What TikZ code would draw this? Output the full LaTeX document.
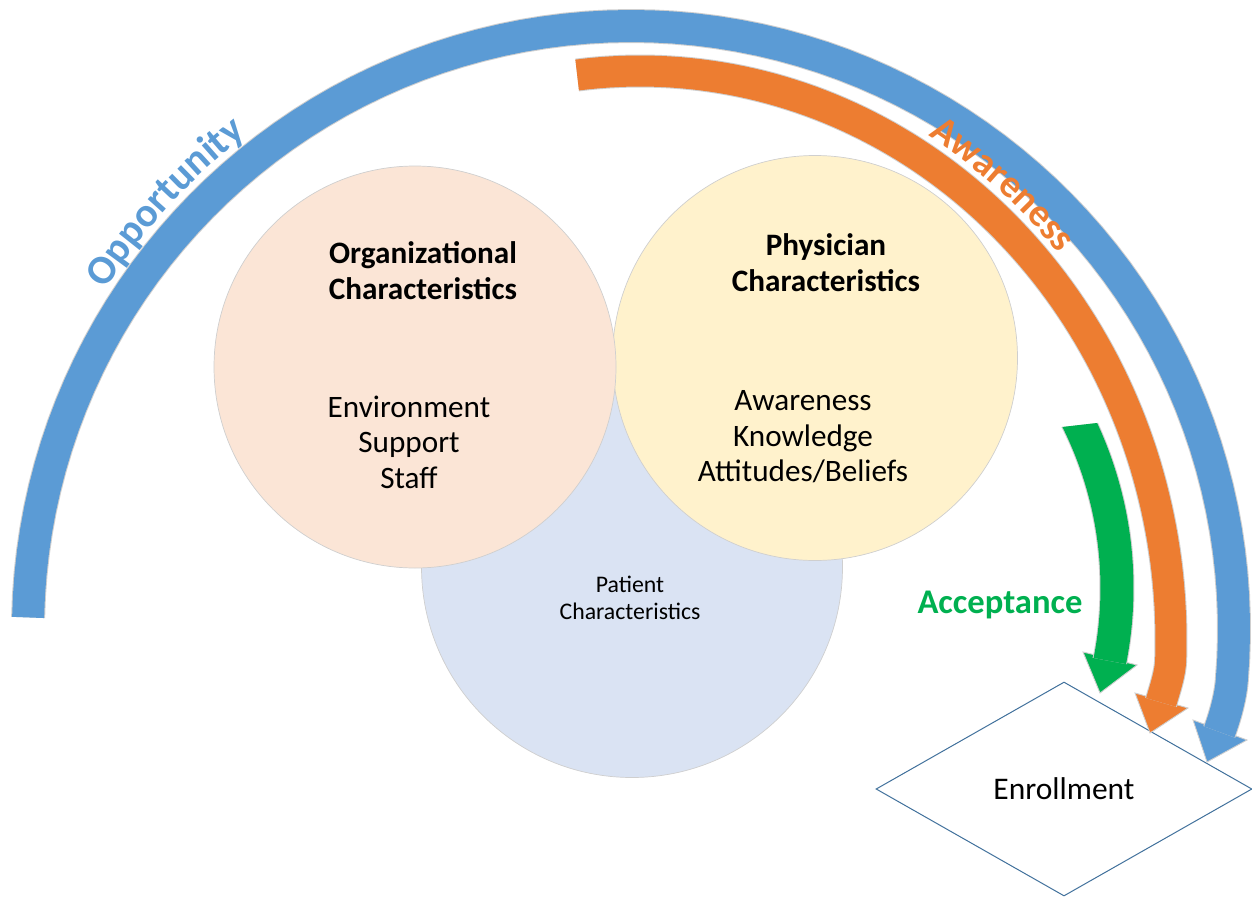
\documentclass[tikz,border=0pt]{standalone}
\usepackage{fontspec}
\setmainfont{Carlito}
\usetikzlibrary{shapes.geometric,decorations.text}
\definecolor{bluec}{HTML}{5B9BD5}
\definecolor{orangec}{HTML}{ED7D31}
\definecolor{greenc}{HTML}{00B050}
\definecolor{orgfill}{HTML}{FBE5D6}
\definecolor{phyfill}{HTML}{FFF2CC}
\definecolor{patfill}{HTML}{DAE3F3}
\definecolor{diaedge}{HTML}{41719C}
\definecolor{rimc}{HTML}{CFCFCF}
\begin{document}
\begin{tikzpicture}[x=1pt,y=-1pt,
  circ/.style={circle, draw=rimc, line width=0.7pt, inner sep=0pt},
  headtxt/.style={font=\bfseries\fontsize{31.2}{36}\selectfont, align=center, inner sep=0pt},
  bodytxt/.style={font=\fontsize{31.2}{35.5}\selectfont, align=center, inner sep=0pt},
  bluearc/.style={draw=bluec, line width=32pt, preaction={draw=rimc, line width=34pt}},
  orangearc/.style={draw=orangec, line width=31pt, preaction={draw=rimc, line width=33pt}},
  greenarc/.style={draw=greenc, line width=33pt, preaction={draw=rimc, line width=35pt}},
  headshape/.style={draw=rimc, line width=0.9pt, line join=miter}
]
\useasboundingbox (0,0) rectangle (1252,897);

% circles
\node[circ, fill=patfill, minimum size=421pt] (pat) at (632,567) {};
\node[circ, fill=phyfill, minimum size=405pt] (phy) at (815,358) {};
\node[circ, fill=orgfill, minimum size=402pt] (org) at (415,367) {};

% circle texts
\node[headtxt] (orgT) at (423,271) {Organizational\\Characteristics};
\node[bodytxt] (orgB) at (409,442) {Environment\\Support\\Staff};
\node[headtxt] (phyT) at (826,263) {Physician\\Characteristics};
\node[bodytxt] (phyB) at (803,437) {Awareness\\Knowledge\\Attitudes/Beliefs};
\node[font=\fontsize{23.8}{27}\selectfont, align=center, inner sep=0pt] (patT) at (630,598) {Patient\\Characteristics};

% enrollment diamond
\node[diamond, draw=diaedge, fill=white, line width=1pt, minimum width=376pt, minimum height=214pt, inner sep=0pt, font=\fontsize{31.5}{36}\selectfont] (enr) at (1064,789) {Enrollment};

% arrow coordinates
\coordinate (blueL) at (1193,720);
\coordinate (blueR) at (1247,740);
\coordinate (blueTip) at (1207,762);
\coordinate (blueEnd) at (1219.3,731.9);
\coordinate (orL) at (1135,693);
\coordinate (orR) at (1188,708);
\coordinate (orTip) at (1150,733);
\coordinate (orEnd) at (1161,702.4);
\coordinate (grL) at (1083,652);
\coordinate (grR) at (1137,665);
\coordinate (grTip) at (1100,693);

% blue arrow (Opportunity)
\filldraw[headshape, fill=bluec] (blueL) -- (blueTip) -- (blueR) -- cycle;
\draw[bluearc] plot[domain=181.1:365, samples=90, variable=\t] ({631+603*cos(\t)},{629+603*sin(\t)}) .. controls (1230.3,697.5) and (1224.9,716.9) .. (blueEnd);

% orange arrow (Awareness)
\filldraw[headshape, fill=orangec] (orL) -- (orTip) -- (orR) -- cycle;
\draw[orangearc] plot[domain=263.2:362, samples=90, variable=\t] ({640+531*cos(\t)},{640+569*sin(\t)}) .. controls (1170.2,674) and (1164.8,689) .. (orEnd);

% green arrow (Acceptance)
\filldraw[headshape, fill=greenc] (grL) -- (grTip) -- (grR) -- cycle;
\begin{scope}
  \clip (1000,434.1) -- (1200,411.2) -- (1200,720) -- (1000,720) -- cycle;
  \draw[greenarc] plot[domain=-30:11.2, samples=40, variable=\t] ({741+376*cos(\t)},{588+376*sin(\t)});
\end{scope}

% labels
\node[font=\bfseries\fontsize{34.6}{40}\selectfont, text=greenc, inner sep=0pt] (acc) at (1000,605) {Acceptance};

\path[decorate, decoration={text along path, text align=center, text color=bluec,
  text={|\bfseries\fontsize{41}{48}\selectfont|Opportunity}}]
  plot[domain=195:250, samples=80, variable=\t] ({631+626*cos(\t)},{629+626*sin(\t)});

\path[decorate, decoration={text along path, text align=center, text color=orangec,
  text={|\bfseries\fontsize{39}{46}\selectfont|Awareness}}]
  plot[domain=285:335, samples=80, variable=\t] ({640+553*cos(\t)},{640+591*sin(\t)});

\end{tikzpicture}
\end{document}
